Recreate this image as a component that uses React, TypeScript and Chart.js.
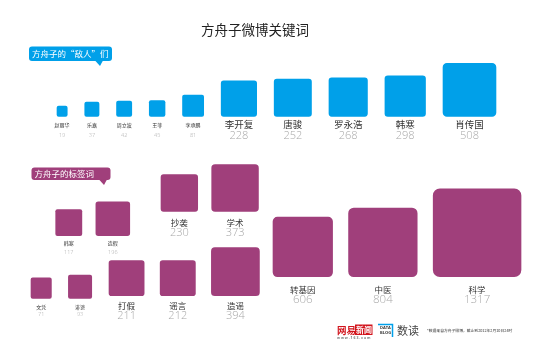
import React, { useEffect, useRef } from 'react';
import { Chart, registerables } from 'chart.js';

Chart.register(...registerables);

// ---- data ----
const enemyNames = ['赵丽华', '乐嘉', '周立波', '王菲', '李承鹏', '李开复', '唐骏', '罗永浩', '韩寒', '肖传国'];
const enemyCounts = [19, 37, 42, 45, 81, 228, 252, 268, 298, 508];

const tagNames = ['韩寒', '造假', '抄袭', '学术', '文凭', '诽谤', '打假', '谣言', '造谣', '转基因', '中医', '科学'];
const tagCounts = [117, 196, 230, 373, 71, 93, 211, 212, 394, 606, 804, 1317];

const titleText = '方舟子微博关键词';
const enemyCaption = '方舟子的“敌人”们';
const tagCaption = '方舟子的标签词';
const footnote = '*数据来自方舟子微博，截止到2012年2月10日24时';

// ---- layout / style (not data) ----
const BLUE = '#00A0E9';
const PURPLE = '#A03F7B';
const CJK = '"Noto Sans CJK SC", sans-serif';
const NUM = '"Open Sans", "Liberation Sans", sans-serif';

type Group = {
  names: string[]; counts: number[]; idx: number[]; color: string; k: number;
  start: number; gap: number; base: number; nameDy: number; valueDy: number; bigName: number; bigValue: number;
};

const groups: Group[] = [
  { names: enemyNames, counts: enemyCounts, idx: [0, 1, 2, 3, 4, 5, 6, 7, 8, 9], color: BLUE, k: 2.35, start: 57, gap: 17.5, base: 116.3, nameDy: 8.5, valueDy: 19.5, bigName: 9.5, bigValue: 11 },
  { names: tagNames, counts: tagCounts, idx: [0, 1], color: PURPLE, k: 2.42, start: 55.7, gap: 14, base: 235.7, nameDy: 7.8, valueDy: 17, bigName: 8.5, bigValue: 11 },
  { names: tagNames, counts: tagCounts, idx: [2, 3], color: PURPLE, k: 2.42, start: 161, gap: 14, base: 211.3, nameDy: 11.5, valueDy: 21.8, bigName: 8.5, bigValue: 11 },
  { names: tagNames, counts: tagCounts, idx: [4, 5], color: PURPLE, k: 2.42, start: 31, gap: 17, base: 298.3, nameDy: 9.2, valueDy: 16.5, bigName: 8.5, bigValue: 11 },
  { names: tagNames, counts: tagCounts, idx: [6, 7, 8], color: PURPLE, k: 2.42, start: 109, gap: 16, base: 295.7, nameDy: 10.3, valueDy: 20.6, bigName: 8.5, bigValue: 11 },
  { names: tagNames, counts: tagCounts, idx: [9, 10, 11], color: PURPLE, k: 2.42, start: 273, gap: 16, base: 276.7, nameDy: 13.3, valueDy: 23, bigName: 8.5, bigValue: 11.5 },
];

type Item = { name: string; value: number; cx: number; base: number; side: number; color: string; g: Group };

function buildItems(): Item[] {
  const out: Item[] = [];
  for (const g of groups) {
    let x = g.start;
    for (const i of g.idx) {
      const v = g.counts[i];
      const side = g.k * Math.sqrt(v);
      out.push({ name: g.names[i], value: v, cx: x + side / 2, base: g.base, side, color: g.color, g });
      x += side + g.gap;
    }
  }
  return out;
}

function roundRect(ctx: CanvasRenderingContext2D, x: number, y: number, w: number, h: number, r: number) {
  ctx.beginPath();
  ctx.moveTo(x + r, y);
  ctx.lineTo(x + w - r, y);
  ctx.quadraticCurveTo(x + w, y, x + w, y + r);
  ctx.lineTo(x + w, y + h - r);
  ctx.quadraticCurveTo(x + w, y + h, x + w - r, y + h);
  ctx.lineTo(x + r, y + h);
  ctx.quadraticCurveTo(x, y + h, x, y + h - r);
  ctx.lineTo(x, y + r);
  ctx.quadraticCurveTo(x, y, x + r, y);
  ctx.closePath();
}

function callout(ctx: CanvasRenderingContext2D, x: number, y: number, w: number, h: number, tipX: number, tipY: number, color: string, text: string) {
  ctx.save();
  ctx.fillStyle = color;
  roundRect(ctx, x, y, w, h, 3);
  ctx.fill();
  ctx.beginPath();
  ctx.moveTo(tipX - 5, y + h - 0.5);
  ctx.lineTo(tipX + 3, y + h - 0.5);
  ctx.lineTo(tipX, tipY);
  ctx.closePath();
  ctx.fill();
  ctx.fillStyle = '#ffffff';
  ctx.font = `8.5px ${CJK}`;
  ctx.textAlign = 'left';
  ctx.textBaseline = 'middle';
  ctx.fillText(text, x + 3, y + h / 2 + 0.5);
  ctx.restore();
}

export default function App() {
  const ref = useRef<HTMLCanvasElement | null>(null);

  useEffect(() => {
    if (!ref.current) return;
    const items = buildItems();

    const labelPlugin = {
      id: 'squareLabels',
      afterDatasetsDraw(chart: any) {
        const ctx: CanvasRenderingContext2D = chart.ctx;
        const ys = chart.scales.y;
        ctx.save();
        ctx.textAlign = 'center';
        ctx.textBaseline = 'middle';
        items.forEach((it, di) => {
          const el = chart.getDatasetMeta(di).data[0];
          if (!el) return;
          const by = ys.getPixelForValue(it.base);
          const big = it.value >= 200;
          ctx.fillStyle = '#333333';
          ctx.font = big ? `${it.g.bigName}px ${CJK}` : `5px ${CJK}`;
          ctx.fillText(it.name, el.x, by + it.g.nameDy);
          ctx.fillStyle = '#a8a8a8';
          ctx.font = big ? `300 ${it.g.bigValue}px ${NUM}` : `300 5.5px ${NUM}`;
          ctx.fillText(String(it.value), el.x, by + it.g.valueDy);
        });
        ctx.restore();
      },
    };

    const decoPlugin = {
      id: 'deco',
      afterDraw(chart: any) {
        const ctx: CanvasRenderingContext2D = chart.ctx;
        ctx.save();
        // title
        ctx.fillStyle = '#222222';
        ctx.font = `13.5px ${CJK}`;
        ctx.textAlign = 'center';
        ctx.textBaseline = 'middle';
        ctx.fillText(titleText, 255, 30);
        ctx.restore();

        callout(ctx, 29, 46.5, 83, 14.5, 100, 66, BLUE, enemyCaption);
        callout(ctx, 31.5, 167.5, 79, 12.5, 104, 185, PURPLE, tagCaption);

        // footer logos
        ctx.save();
        ctx.textBaseline = 'middle';
        ctx.textAlign = 'left';
        ctx.fillStyle = '#D2141C';
        ctx.font = `bold 9.5px ${CJK}`;
        ctx.fillText('网易', 337, 330);
        ctx.fillRect(355, 324.5, 17.5, 10.5);
        ctx.fillStyle = '#ffffff';
        ctx.font = `bold 8px ${CJK}`;
        ctx.fillText('新闻', 356, 330);
        ctx.fillStyle = '#777777';
        ctx.font = `bold 3.5px ${NUM}`;
        ctx.fillText('w w w . 1 6 3 . c o m', 337, 337.5);

        ctx.fillStyle = '#333333';
        ctx.font = `bold 4px ${NUM}`;
        ctx.fillText('DATA', 380, 328);
        ctx.fillText('BLOG', 380, 333);
        ctx.strokeStyle = BLUE;
        ctx.lineWidth = 1.5;
        ctx.beginPath();
        ctx.moveTo(378, 324.5);
        ctx.lineTo(392.5, 324.5);
        ctx.lineTo(392.5, 337);
        ctx.stroke();
        ctx.fillStyle = '#444444';
        ctx.font = `11px ${CJK}`;
        ctx.fillText('数读', 397, 330.5);

        ctx.fillStyle = '#333333';
        ctx.font = `3.8px ${CJK}`;
        ctx.fillText(footnote, 427, 330.5);
        ctx.restore();
      },
    };

    const chart = new Chart(ref.current, {
      type: 'bar',
      data: {
        datasets: items.map((it) => ({
          label: it.name,
          data: [{ x: it.cx, y: [it.base, it.base - it.side] }] as any,
          backgroundColor: it.color,
          barThickness: it.side,
          borderRadius: Math.max(2, it.side * 0.08),
          borderSkipped: false,
          borderWidth: 0,
          stack: 'all',
          grouped: true,
        })),
      },
      options: {
        animation: false,
        responsive: true,
        maintainAspectRatio: false,
        layout: { padding: 0 },
        plugins: { legend: { display: false }, tooltip: { enabled: false }, title: { display: false } },
        scales: {
          x: { type: 'linear', min: 0, max: 550, display: false, offset: false, stacked: undefined as any },
          y: { type: 'linear', min: 0, max: 359, reverse: true, display: false, stacked: false },
        },
      } as any,
      plugins: [labelPlugin, decoPlugin],
    });
    return () => chart.destroy();
  }, []);

  return (
    <div style={{ position: 'absolute', left: 0, top: 0, width: 550, height: 359, background: '#ffffff' }}>
      <canvas ref={ref} />
    </div>
  );
}
